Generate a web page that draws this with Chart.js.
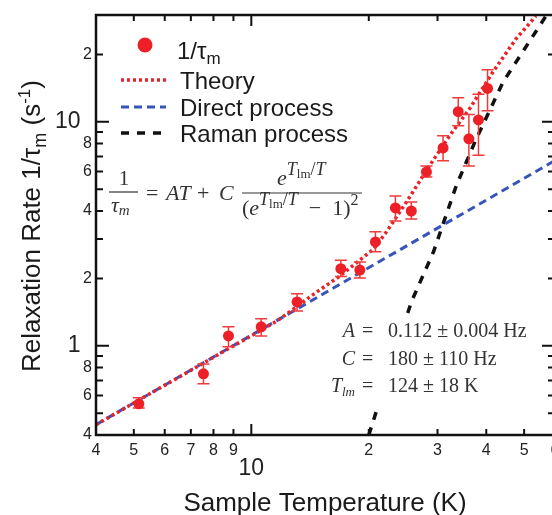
<!DOCTYPE html>
<html>
<head>
<meta charset="utf-8">
<script src="https://cdn.jsdelivr.net/npm/chart.js@4.4.1/dist/chart.umd.min.js"></script>
<style>
  html, body { margin: 0; padding: 0; background: #fff; overflow: hidden; }
  canvas { display: block; }
</style>
</head>
<body>
<canvas id="chart" width="570" height="515"></canvas>
<script>
// measured relaxation rate
var tempK = [5.15, 7.54, 8.74, 10.6, 13.1, 16.96, 18.97, 20.8, 23.4, 25.7, 28.1, 31.0, 33.9, 36.1, 38.2, 40.3];
var rate = [0.551, 0.75, 1.108, 1.216, 1.57, 2.21, 2.18, 2.91, 4.13, 4.0, 5.98, 7.65, 11.1, 8.4, 10.2, 14.1];
var rateHigh = [0.586, 0.83, 1.216, 1.32, 1.71, 2.41, 2.37, 3.23, 4.67, 4.39, 6.35, 8.66, 12.8, 10.8, 13.3, 17.1];
var rateLow = [0.528, 0.677, 0.99, 1.108, 1.43, 2.04, 2.01, 2.63, 3.61, 3.68, 5.67, 6.7, 9.6, 6.35, 7.1, 11.2];

// curves
var theoryT = [4, 11.65, 14.73, 16.87, 20.6, 22.2, 25.0, 28.6, 32.2, 36.2, 41.6, 47.7, 53.6];
var theoryRate = [0.445, 1.293, 1.742, 2.05, 2.71, 3.23, 4.4, 6.36, 8.66, 11.4, 16.7, 23.5, 29.7];
var directT = [4, 60];
var directRate = [0.445, 6.72];
var ramanT = [20.0, 25.7, 29.3, 33.5, 37.7, 44.2, 56.9];
var ramanRate = [0.40, 1.57, 2.63, 5.18, 8.4, 15.1, 29.7];

// axes
var xTickValues = [4, 5, 6, 7, 8, 9, 10, 20, 30, 40, 50, 60];
var xTickLabels = ['4', '5', '6', '7', '8', '9', ['', '10'], '2', '3', '4', '5', '6'];
var yTickValues = [0.4, 0.5, 0.6, 0.7, 0.8, 0.9, 1, 2, 3, 4, 5, 6, 7, 8, 9, 10, 20, 30];
var yTickLabels = ['4', '', '6', '', '8', '', '1\u2002', '2', '', '4', '', '6', '', '8', '', '10\u2002', '2', ''];
var xMajor = [10];
var yMajor = [1, 10];

var SANS = '"Liberation Sans", Arial, sans-serif';
var SERIF = '"Liberation Serif", "Times New Roman", serif';
var RED = 'rgb(237, 32, 39)';
var BLUE = 'rgb(55, 85, 185)';

function pairs(xs, ys) {
  return xs.map(function (x, i) { return { x: x, y: ys[i] }; });
}

function runs(ctx, x, y, parts) {
  parts.forEach(function (p) {
    ctx.font = p[1];
    ctx.fillText(p[0], x, y + (p[2] || 0));
    x += ctx.measureText(p[0]).width;
  });
  return x;
}
function runsWidth(ctx, parts) {
  var w = 0;
  parts.forEach(function (p) { ctx.font = p[1]; w += ctx.measureText(p[0]).width; });
  return w;
}

var errorBars = {
  id: 'errorBars',
  beforeDatasetDraw: function (chart, args) {
    if (args.index !== 0) return;
    var ctx = chart.ctx, xs = chart.scales.x, ys = chart.scales.y;
    ctx.save();
    ctx.strokeStyle = 'rgb(236, 60, 60)';
    ctx.lineWidth = 1.5;
    tempK.forEach(function (t, i) {
      var px = xs.getPixelForValue(t);
      var hi = ys.getPixelForValue(rateHigh[i]);
      var lo = ys.getPixelForValue(rateLow[i]);
      ctx.beginPath();
      ctx.moveTo(px, hi); ctx.lineTo(px, lo);
      ctx.moveTo(px - 6, hi); ctx.lineTo(px + 6, hi);
      ctx.moveTo(px - 6, lo); ctx.lineTo(px + 6, lo);
      ctx.stroke();
    });
    ctx.restore();
  }
};

var frame = {
  id: 'frame',
  afterDraw: function (chart) {
    var ctx = chart.ctx, a = chart.chartArea, xs = chart.scales.x, ys = chart.scales.y;
    ctx.save();

    // white box behind the fit parameters (hides the Raman line there)
    ctx.fillStyle = '#fff';
    ctx.fillRect(318, 314, 215, 92);

    ctx.strokeStyle = '#111';
    ctx.lineWidth = 2;
    xTickValues.forEach(function (v) {
      var p = xs.getPixelForValue(v);
      var len = xMajor.indexOf(v) >= 0 ? 11 : 6;
      ctx.beginPath();
      ctx.moveTo(p, a.bottom); ctx.lineTo(p, a.bottom - len);
      ctx.moveTo(p, a.top); ctx.lineTo(p, a.top + len);
      ctx.stroke();
    });
    yTickValues.forEach(function (v) {
      var p = ys.getPixelForValue(v);
      var len = yMajor.indexOf(v) >= 0 ? 13 : 7;
      ctx.beginPath();
      ctx.moveTo(a.left, p); ctx.lineTo(a.left + len, p);
      ctx.moveTo(a.right, p); ctx.lineTo(a.right - len, p);
      ctx.stroke();
    });
    ctx.lineWidth = 2.5;
    ctx.strokeRect(a.left, a.top, a.right - a.left, a.bottom - a.top);

    // axis titles
    ctx.fillStyle = '#1a1a1a';
    ctx.textBaseline = 'alphabetic';
    ctx.textAlign = 'center';
    ctx.font = '26px ' + SANS;
    ctx.fillText('Sample Temperature (K)', 325, 511);

    ctx.textAlign = 'left';
    var yTitle = [
      ['Relaxation Rate 1/\u03c4', '26px ' + SANS],
      ['m', '18px ' + SANS, 6],
      [' (s', '26px ' + SANS],
      ['-1', '17px ' + SANS, -10],
      [')', '26px ' + SANS]
    ];
    ctx.save();
    ctx.translate(40, 226);
    ctx.rotate(-Math.PI / 2);
    runs(ctx, -runsWidth(ctx, yTitle) / 2, 0, yTitle);
    ctx.restore();

    // legend
    ctx.fillStyle = RED;
    ctx.beginPath();
    ctx.arc(145, 45, 7.5, 0, Math.PI * 2);
    ctx.fill();
    ctx.fillStyle = '#1a1a1a';
    runs(ctx, 177, 59, [['1/\u03c4', '24px ' + SANS], ['m', '17px ' + SANS, 5]]);
    var legendRows = [
      ['Theory', RED, [3, 3], 3.5, 80],
      ['Direct process', BLUE, [8, 5], 3, 107],
      ['Raman process', '#111', [8, 8], 3.5, 133]
    ];
    legendRows.forEach(function (r) {
      ctx.save();
      ctx.strokeStyle = r[1];
      ctx.setLineDash(r[2]);
      ctx.lineWidth = r[3];
      ctx.beginPath();
      ctx.moveTo(121, r[4]); ctx.lineTo(166, r[4]);
      ctx.stroke();
      ctx.restore();
      ctx.font = '24px ' + SANS;
      ctx.fillText(r[0], 180, r[4] + 8.5);
    });

    // model equation
    ctx.fillStyle = '#333';
    ctx.strokeStyle = '#333';
    ctx.lineWidth = 1.2;
    ctx.textAlign = 'center';
    ctx.font = '21px ' + SERIF;
    ctx.fillText('1', 124, 185);
    ctx.beginPath(); ctx.moveTo(109, 192); ctx.lineTo(138, 192); ctx.stroke();
    ctx.textAlign = 'left';
    runs(ctx, 111, 212, [['\u03c4', 'italic 22px ' + SERIF], ['m', 'italic 15px ' + SERIF, 3]]);
    ctx.font = '22px ' + SERIF; ctx.fillText('=', 146, 200);
    ctx.font = 'italic 22px ' + SERIF; ctx.fillText('AT', 166, 200);
    ctx.font = '22px ' + SERIF; ctx.fillText('+', 197, 200);
    ctx.font = 'italic 22px ' + SERIF; ctx.fillText('C', 219, 200);
    var expo = [
      ['T', 'italic 18px ' + SERIF, -10],
      ['lm', '13px ' + SERIF, -7],
      ['/', '18px ' + SERIF, -10],
      ['T', 'italic 18px ' + SERIF, -10]
    ];
    runs(ctx, 277, 185, [['e', 'italic 22px ' + SERIF]].concat(expo));
    ctx.beginPath(); ctx.moveTo(242, 193); ctx.lineTo(362, 193); ctx.stroke();
    runs(ctx, 242, 215, [['(', '22px ' + SERIF], ['e', 'italic 22px ' + SERIF]]
      .concat(expo)
      .concat([['\u2002\u2212\u20021)', '22px ' + SERIF], ['2', '16px ' + SERIF, -10]]));

    // fit parameters
    var fitRows = [
      [[['A', 'italic 20px ' + SERIF]], '0.112 \u00b1 0.004 Hz', 337],
      [[['C', 'italic 20px ' + SERIF]], '180 \u00b1 110 Hz', 365],
      [[['T', 'italic 20px ' + SERIF], ['lm', 'italic 13px ' + SERIF, 4]], '124 \u00b1 18 K', 392]
    ];
    fitRows.forEach(function (r) {
      runs(ctx, 355 - runsWidth(ctx, r[0]), r[2], r[0]);
      ctx.font = '20px ' + SERIF;
      ctx.fillText('=', 362, r[2]);
      ctx.fillText(r[1], 388, r[2]);
    });
    ctx.restore();
  }
};

new Chart(document.getElementById('chart'), {
  type: 'scatter',
  data: {
    datasets: [
      {
        label: '1/\u03c4m',
        data: pairs(tempK, rate),
        backgroundColor: RED,
        borderColor: RED,
        pointRadius: 5.5,
        pointBorderWidth: 0
      },
      {
        label: 'Theory',
        data: pairs(theoryT, theoryRate),
        showLine: true,
        borderColor: RED,
        borderWidth: 3.5,
        borderDash: [3, 3],
        pointRadius: 0
      },
      {
        label: 'Direct process',
        data: pairs(directT, directRate),
        showLine: true,
        borderColor: BLUE,
        borderWidth: 3,
        borderDash: [8, 5],
        pointRadius: 0
      },
      {
        label: 'Raman process',
        data: pairs(ramanT, ramanRate),
        showLine: true,
        borderColor: '#111',
        borderWidth: 3.5,
        borderDash: [8, 8],
        pointRadius: 0
      }
    ]
  },
  options: {
    responsive: false,
    animation: false,
    devicePixelRatio: 1,
    layout: { padding: { top: 15, right: 15, left: 0, bottom: 0 } },
    plugins: { legend: { display: false }, tooltip: { enabled: false } },
    scales: {
      x: {
        type: 'logarithmic',
        min: 4, max: 60,
        grid: { display: false, drawTicks: false },
        border: { display: false },
        afterBuildTicks: function (s) { s.ticks = xTickValues.map(function (v) { return { value: v }; }); },
        afterFit: function (s) { s.height = 80; },
        ticks: {
          autoSkip: false, maxRotation: 0, minRotation: 0, padding: 6,
          color: '#222',
          font: function (c) {
            return xMajor.indexOf(c.tick && c.tick.value) >= 0
              ? { family: SANS, size: 23, lineHeight: 0.8 }
              : { family: SANS, size: 16, lineHeight: 1.2 };
          },
          callback: function (v, i) { return xTickLabels[i]; }
        }
      },
      y: {
        type: 'logarithmic',
        min: 0.4, max: 30,
        grid: { display: false, drawTicks: false },
        border: { display: false },
        afterBuildTicks: function (s) { s.ticks = yTickValues.map(function (v) { return { value: v }; }); },
        afterFit: function (s) { s.width = 96; },
        ticks: {
          autoSkip: false, padding: 4,
          color: '#222',
          font: function (c) {
            return yMajor.indexOf(c.tick && c.tick.value) >= 0
              ? { family: SANS, size: 23 }
              : { family: SANS, size: 16 };
          },
          callback: function (v, i) { return yTickLabels[i]; }
        }
      }
    }
  },
  plugins: [errorBars, frame]
});
</script>
</body>
</html>
